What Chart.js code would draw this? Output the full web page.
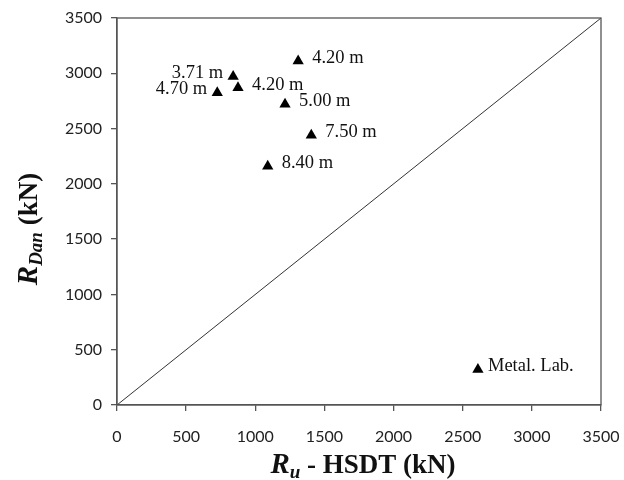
<!DOCTYPE html>
<html>
<head>
<meta charset="utf-8">
<script src="https://cdn.jsdelivr.net/npm/chart.js@4"></script>
<style>
  html, body { margin: 0; padding: 0; background: #fff; }
  #wrap { width: 624px; height: 480px; }
</style>
</head>
<body>
<div id="wrap"><canvas id="chart"></canvas></div>
<script>
/* values */
var pointLabels = ['4.20 m', '3.71 m', '4.20 m', '4.70 m', '5.00 m', '7.50 m', '8.40 m', 'Metal. Lab.'];
var ruHsdt = [1310, 840, 875, 725, 1215, 1405, 1090, 2610];
var rDan = [3110, 2970, 2870, 2825, 2720, 2440, 2160, 320];
var labelSide = ['right', 'left', 'right', 'left', 'right', 'right', 'right', 'right'];
var axisTicks = [0, 500, 1000, 1500, 2000, 2500, 3000, 3500];

var points = ruHsdt.map(function (x, i) { return { x: x, y: rDan[i] }; });
var diagonal = [{ x: 0, y: 0 }, { x: 3500, y: 3500 }];

/* point labels, plot frame and axis titles with subscripts */
var decorPlugin = {
  id: 'decor',
  afterDatasetsDraw: function (chart) {
    var ctx = chart.ctx;
    var area = chart.chartArea;
    var xs = chart.scales.x, ys = chart.scales.y;

    ctx.save();
    ctx.strokeStyle = '#555';
    ctx.lineWidth = 1.3;
    ctx.strokeRect(area.left, area.top, area.right - area.left, area.bottom - area.top);

    ctx.fillStyle = '#111';
    ctx.font = '18.5px "Liberation Serif", serif';
    ctx.textBaseline = 'middle';
    pointLabels.forEach(function (txt, i) {
      var px = xs.getPixelForValue(ruHsdt[i]);
      var py = ys.getPixelForValue(rDan[i]);
      if (labelSide[i] === 'left') {
        ctx.textAlign = 'right';
        ctx.fillText(txt, px - 10, py - 3);
      } else {
        ctx.textAlign = 'left';
        ctx.fillText(txt, px + (i === 7 ? 10 : 14), py - 3);
      }
    });

    // x axis title
    var bigF = 'italic bold 29px "Liberation Serif", serif';
    var subF = 'italic bold 19px "Liberation Serif", serif';
    var restF = 'bold 27px "Liberation Serif", serif';
    ctx.textAlign = 'left';
    ctx.textBaseline = 'alphabetic';
    var parts = [[bigF, 'R', 0], [subF, 'u', 5], [restF, ' - HSDT (kN)', 0]];
    drawParts(ctx, parts, (area.left + area.right) / 2 + 4, 473);

    // y axis title
    ctx.translate(37, 229);
    ctx.rotate(-Math.PI / 2);
    parts = [[bigF, 'R', 0], [subF, 'Dan', 5], [restF, ' (kN)', 0]];
    drawParts(ctx, parts, 0, 0);
    ctx.restore();
  }
};

function drawParts(ctx, parts, cx, baseY) {
  var total = 0;
  parts.forEach(function (p) { ctx.font = p[0]; total += ctx.measureText(p[1]).width; });
  var x = cx - total / 2;
  parts.forEach(function (p) {
    ctx.font = p[0];
    ctx.fillText(p[1], x, baseY + p[2]);
    x += ctx.measureText(p[1]).width;
  });
}

var tickFont = { family: 'Lato, "Open Sans", sans-serif', size: 16 };

function plainTick(v) { return String(v); }

new Chart(document.getElementById('chart'), {
  type: 'scatter',
  data: {
    datasets: [
      {
        data: points,
        pointStyle: 'triangle',
        radius: 6.5,
        hoverRadius: 6.5,
        backgroundColor: '#000',
        borderColor: '#000',
        borderWidth: 0
      },
      {
        data: diagonal,
        showLine: true,
        borderColor: '#333',
        borderWidth: 1,
        pointRadius: 0,
        hoverRadius: 0
      }
    ]
  },
  options: {
    responsive: true,
    maintainAspectRatio: false,
    animation: false,
    events: [],
    layout: { padding: { top: 18, right: 23, left: 0, bottom: 0 } },
    plugins: { legend: { display: false }, tooltip: { enabled: false } },
    scales: {
      x: {
        type: 'linear',
        min: 0, max: 3500,
        afterBuildTicks: function (s) { s.ticks = axisTicks.map(function (v) { return { value: v }; }); },
        afterFit: function (s) { s.height = 75; s.paddingLeft = 0; s.paddingRight = 0; },
        grid: { drawOnChartArea: false, tickLength: 6, color: '#555', lineWidth: 1.3 },
        border: { color: '#555', width: 1.3 },
        ticks: { color: '#222', font: tickFont, padding: 16, maxRotation: 0, callback: plainTick }
      },
      y: {
        type: 'linear',
        min: 0, max: 3500,
        afterBuildTicks: function (s) { s.ticks = axisTicks.map(function (v) { return { value: v }; }); },
        afterFit: function (s) { s.width = 117; s.paddingTop = 0; s.paddingBottom = 0; },
        grid: { drawOnChartArea: false, tickLength: 6, color: '#555', lineWidth: 1.3 },
        border: { color: '#555', width: 1.3 },
        ticks: { color: '#222', font: tickFont, padding: 9, callback: plainTick }
      }
    }
  },
  plugins: [decorPlugin]
});
</script>
</body>
</html>
